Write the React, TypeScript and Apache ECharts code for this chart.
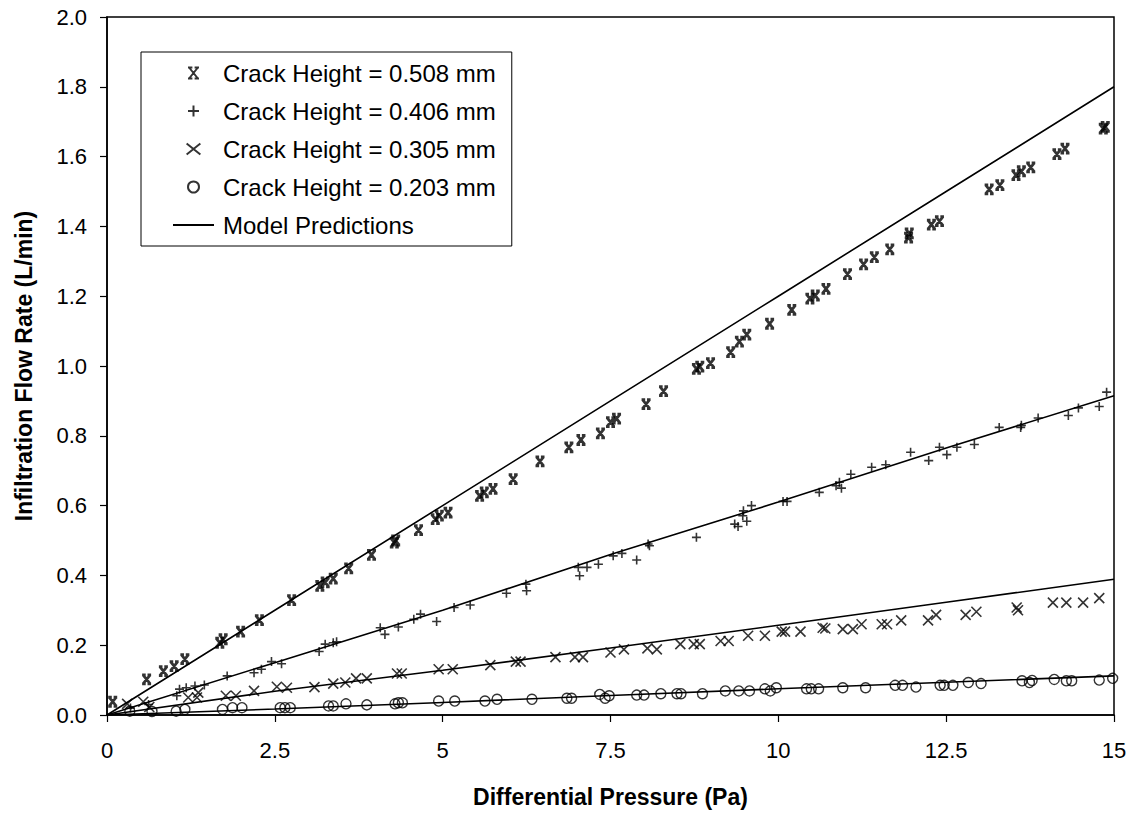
import React, { useEffect, useRef } from "react";
import * as echarts from "echarts";

// Measured infiltration flow rate (L/min) against differential pressure (Pa)
const crack508: [number, number][] = [
  [0.085, 0.038], [0.59, 0.102], [0.84, 0.126], [1.0, 0.14], [1.16, 0.16],
  [1.68, 0.207], [1.73, 0.217], [1.99, 0.239], [2.27, 0.272], [2.75, 0.329],
  [3.17, 0.37], [3.25, 0.38], [3.37, 0.391], [3.6, 0.42], [3.94, 0.459],
  [4.28, 0.494], [4.3, 0.5], [4.64, 0.53], [4.89, 0.561], [4.95, 0.571],
  [5.08, 0.58], [5.55, 0.628], [5.62, 0.638], [5.75, 0.648], [6.05, 0.676],
  [6.45, 0.727], [6.88, 0.767], [7.06, 0.788], [7.35, 0.807], [7.5, 0.839],
  [7.59, 0.849], [8.03, 0.891], [8.29, 0.928], [8.78, 0.992], [8.83, 0.998],
  [8.99, 1.008], [9.29, 1.04], [9.42, 1.07], [9.53, 1.09], [9.87, 1.121],
  [10.2, 1.161], [10.47, 1.193], [10.55, 1.202], [10.71, 1.221], [11.03, 1.263],
  [11.27, 1.291], [11.43, 1.312], [11.66, 1.334], [11.94, 1.368], [11.95, 1.38],
  [12.28, 1.405], [12.4, 1.415], [13.14, 1.506], [13.3, 1.518], [13.54, 1.547],
  [13.62, 1.558], [13.76, 1.569], [14.15, 1.607], [14.27, 1.623], [14.84, 1.68],
  [14.87, 1.685],
];

const crack406: [number, number][] = [
  [0.35, 0.02], [0.62, 0.03], [1.04, 0.055], [1.08, 0.074], [1.18, 0.078],
  [1.31, 0.083], [1.45, 0.086], [1.79, 0.112], [2.19, 0.121], [2.3, 0.131],
  [2.45, 0.153], [2.6, 0.147], [3.16, 0.182], [3.25, 0.203], [3.37, 0.207],
  [3.42, 0.21], [4.07, 0.25], [4.14, 0.231], [4.34, 0.252], [4.57, 0.274],
  [4.67, 0.289], [4.91, 0.268], [5.17, 0.308], [5.41, 0.315], [5.95, 0.349],
  [6.24, 0.375], [6.25, 0.356], [7.02, 0.423], [7.04, 0.399], [7.15, 0.423],
  [7.32, 0.432], [7.54, 0.456], [7.67, 0.463], [7.89, 0.444], [8.06, 0.49],
  [8.08, 0.485], [8.78, 0.509], [9.35, 0.547], [9.4, 0.54], [9.47, 0.571],
  [9.53, 0.555], [9.48, 0.585], [9.6, 0.6], [10.07, 0.612], [10.13, 0.612],
  [10.61, 0.638], [10.86, 0.657], [10.94, 0.65], [10.91, 0.667], [11.08, 0.69],
  [11.39, 0.71], [11.6, 0.717], [11.97, 0.753], [12.24, 0.729], [12.4, 0.767],
  [12.51, 0.746], [12.66, 0.767], [12.92, 0.775], [13.29, 0.824], [13.61, 0.824],
  [13.62, 0.83], [13.87, 0.851], [14.32, 0.858], [14.47, 0.88], [14.78, 0.884],
  [14.89, 0.925],
];

const crack305: [number, number][] = [
  [0.3, 0.032], [0.54, 0.038], [0.63, 0.023], [1.21, 0.05], [1.34, 0.05],
  [1.36, 0.064], [1.77, 0.055], [1.92, 0.055], [2.19, 0.069], [2.53, 0.081],
  [2.68, 0.078], [3.09, 0.08], [3.37, 0.09], [3.55, 0.093], [3.71, 0.105],
  [3.87, 0.105], [4.32, 0.119], [4.39, 0.119], [4.94, 0.131], [5.15, 0.131],
  [5.71, 0.143], [6.09, 0.153], [6.16, 0.153], [6.68, 0.166], [6.97, 0.166],
  [7.09, 0.166], [7.5, 0.179], [7.7, 0.188], [8.05, 0.191], [8.19, 0.188],
  [8.54, 0.203], [8.74, 0.203], [8.83, 0.203], [9.14, 0.212], [9.26, 0.212],
  [9.55, 0.227], [9.8, 0.227], [10.05, 0.239], [10.1, 0.239], [10.33, 0.239],
  [10.66, 0.25], [10.7, 0.248], [10.96, 0.246], [11.11, 0.246], [11.24, 0.26],
  [11.54, 0.26], [11.62, 0.26], [11.83, 0.271], [12.23, 0.271], [12.35, 0.287],
  [12.79, 0.287], [12.95, 0.296], [13.55, 0.308], [13.57, 0.3], [14.09, 0.322],
  [14.29, 0.322], [14.54, 0.322], [14.78, 0.335],
];

const crack203: [number, number][] = [
  [0.34, 0.011], [0.67, 0.01], [1.03, 0.011], [1.16, 0.016], [1.72, 0.016],
  [1.87, 0.021], [2.01, 0.021], [2.58, 0.021], [2.65, 0.021], [2.73, 0.021],
  [3.3, 0.026], [3.37, 0.026], [3.56, 0.032], [3.87, 0.029], [4.29, 0.032],
  [4.34, 0.035], [4.4, 0.035], [4.94, 0.04], [5.18, 0.04], [5.63, 0.04],
  [5.81, 0.045], [6.33, 0.045], [6.85, 0.048], [6.92, 0.048], [7.34, 0.059],
  [7.42, 0.048], [7.48, 0.055], [7.89, 0.057], [8.0, 0.057], [8.25, 0.061],
  [8.49, 0.061], [8.55, 0.061], [8.87, 0.061], [9.21, 0.069], [9.41, 0.069],
  [9.57, 0.069], [9.8, 0.075], [9.88, 0.069], [9.97, 0.078], [10.42, 0.075],
  [10.49, 0.075], [10.6, 0.075], [10.96, 0.078], [11.3, 0.078], [11.74, 0.085],
  [11.85, 0.085], [12.05, 0.08], [12.41, 0.085], [12.47, 0.085], [12.6, 0.085],
  [12.83, 0.093], [13.02, 0.09], [13.63, 0.098], [13.74, 0.093], [13.78, 0.099],
  [14.11, 0.102], [14.29, 0.098], [14.37, 0.098], [14.78, 0.1], [14.98, 0.105],
];

// Model prediction curves, sampled at the x-axis tick positions
const modelPressure = [0, 2.5, 5, 7.5, 10, 12.5, 15];
const model508 = [0, 0.3, 0.6, 0.9, 1.2, 1.5, 1.8];
const model406 = [0, 0.15, 0.3, 0.46, 0.61, 0.765, 0.915];
const model305 = [0, 0.068, 0.128, 0.192, 0.257, 0.323, 0.389];
const model203 = [0, 0.017, 0.036, 0.056, 0.075, 0.094, 0.112];

const seriesNames = [
  "Crack Height = 0.508 mm",
  "Crack Height = 0.406 mm",
  "Crack Height = 0.305 mm",
  "Crack Height = 0.203 mm",
  "Model Predictions",
];

const FONT = "'Liberation Sans', Arial, sans-serif";

const boldCross = "path://M0,0H4M6,0H10M0,10H4M6,10H10M1,0L9,10M9,0L1,10";
const plusMark = "path://M5,0V10M0,5H10";
const crossMark = "path://M0,0L10,8M10,0L0,8";

function modelLine(values: number[]) {
  return {
    name: "Model Predictions",
    type: "line",
    data: modelPressure.map((x, i) => [x, values[i]]),
    symbol: "none",
    lineStyle: { color: "#000", width: 1.6 },
    itemStyle: { color: "#000" },
    z: 3,
  };
}

export default function App() {
  const ref = useRef<HTMLDivElement>(null);

  useEffect(() => {
    if (!ref.current) return;
    const chart = echarts.init(ref.current, undefined, { renderer: "svg" });
    const markerStyle = (w: number) => ({
      color: "transparent",
      borderColor: "#000",
      borderWidth: w,
    });
    chart.setOption({
      animation: false,
      backgroundColor: "#fff",
      grid: {
        left: 107,
        right: 28,
        top: 17,
        bottom: 98,
        show: true,
        borderColor: "#000",
        borderWidth: 1.5,
      },
      legend: {
        data: [
          seriesNames[0],
          seriesNames[1],
          seriesNames[2],
          seriesNames[3],
          {
            name: seriesNames[4],
            itemStyle: { color: "transparent", borderColor: "transparent", borderWidth: 0 },
          },
        ],
        orient: "vertical",
        left: 141,
        top: 52,
        padding: [9, 16, 9, 31],
        itemGap: 14,
        itemWidth: 41,
        itemHeight: 11,
        borderColor: "#000",
        borderWidth: 1,
        backgroundColor: "#fff",
        textStyle: { fontFamily: FONT, fontSize: 24, color: "#000", padding: [0, 0, 0, 4] },
        selectedMode: false,
      },
      xAxis: {
        type: "value",
        min: 0,
        max: 15,
        interval: 2.5,
        name: "Differential Pressure (Pa)",
        nameLocation: "middle",
        nameGap: 70,
        nameTextStyle: { fontFamily: FONT, fontSize: 23, fontWeight: "bold", color: "#000" },
        axisLine: { show: true, lineStyle: { color: "#000", width: 1.5 } },
        axisTick: { show: true, length: 7, lineStyle: { color: "#000", width: 1.2 } },
        axisLabel: { fontFamily: FONT, fontSize: 22, color: "#000", margin: 24 },
        splitLine: { show: false },
      },
      yAxis: {
        type: "value",
        min: 0,
        max: 2,
        interval: 0.2,
        name: "Infiltration Flow Rate (L/min)",
        nameLocation: "middle",
        nameGap: 72,
        nameRotate: 90,
        nameTextStyle: { fontFamily: FONT, fontSize: 23, fontWeight: "bold", color: "#000" },
        axisLine: { show: true, lineStyle: { color: "#000", width: 1.5 } },
        axisTick: { show: true, length: 7, lineStyle: { color: "#000", width: 1.2 } },
        axisLabel: {
          fontFamily: FONT,
          fontSize: 22,
          color: "#000",
          margin: 20,
          formatter: (v: number) => v.toFixed(1),
        },
        splitLine: { show: false },
      },
      series: [
        {
          name: seriesNames[0],
          type: "scatter",
          data: crack508,
          symbol: boldCross,
          symbolSize: 9,
          itemStyle: markerStyle(2.8),
          z: 4,
        },
        {
          name: seriesNames[1],
          type: "scatter",
          data: crack406,
          symbol: plusMark,
          symbolSize: 9,
          itemStyle: markerStyle(1.6),
          z: 4,
        },
        {
          name: seriesNames[2],
          type: "scatter",
          data: crack305,
          symbol: crossMark,
          symbolSize: 10,
          itemStyle: markerStyle(1.6),
          z: 4,
        },
        {
          name: seriesNames[3],
          type: "scatter",
          data: crack203,
          symbol: "circle",
          symbolSize: 10,
          itemStyle: markerStyle(1.4),
          z: 4,
        },
        modelLine(model508),
        modelLine(model406),
        modelLine(model305),
        modelLine(model203),
      ],
    });
    return () => chart.dispose();
  }, []);

  return (
    <div
      ref={ref}
      style={{ position: "fixed", left: 0, top: 0, width: 1142, height: 813 }}
    />
  );
}
